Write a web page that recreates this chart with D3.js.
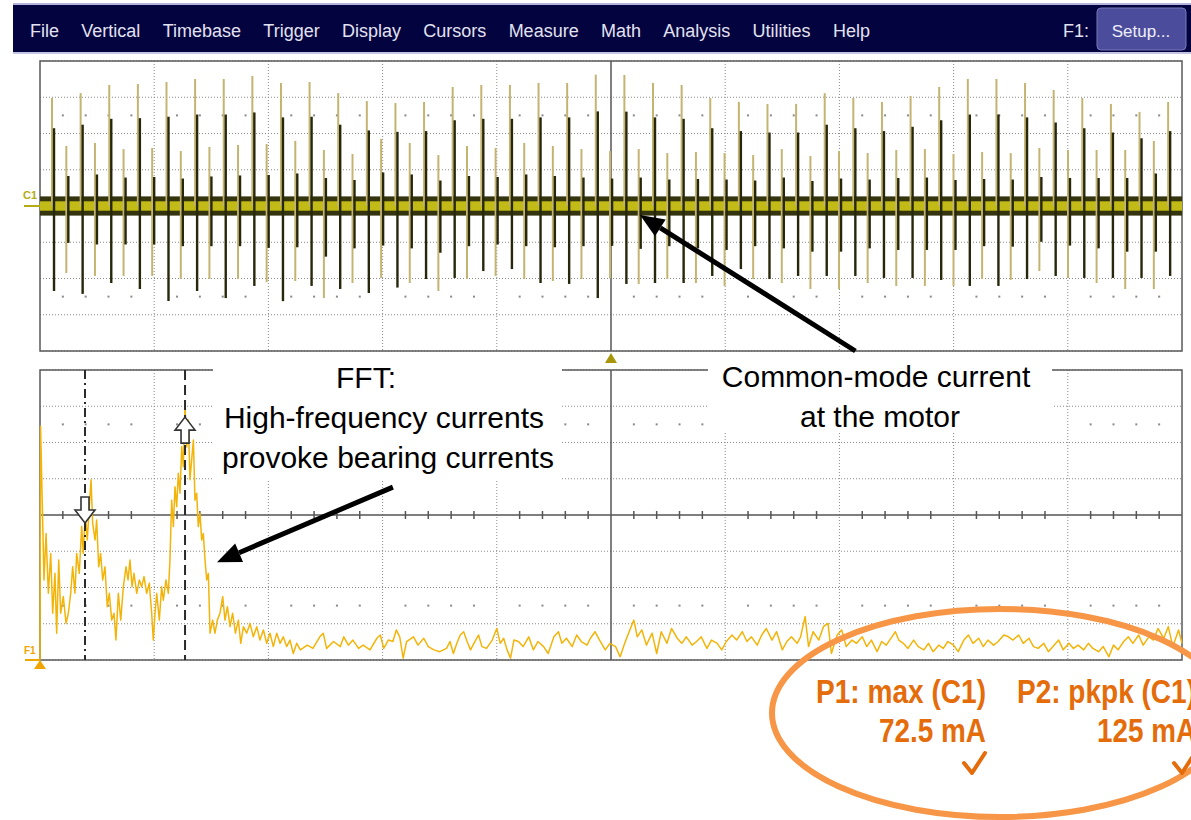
<!DOCTYPE html>
<html>
<head>
<meta charset="utf-8">
<script src="https://cdn.jsdelivr.net/npm/d3@7"></script>
<style>
  body { margin: 0; background: #fff; }
  svg { display: block; font-family: "Liberation Sans", Arial, sans-serif; }
</style>
</head>
<body>
<svg id="scope" width="1191" height="820"></svg>
<script>
// ── DATA ─────────────────────────────────────
const menuItems = ['File', 'Vertical', 'Timebase', 'Trigger', 'Display', 'Cursors',
  'Measure', 'Math', 'Analysis', 'Utilities', 'Help'];

// C1: common-mode current, one spike per switching edge (mA, 20 mA/div)
const pulseStartDiv = 0.114;
const pulsePeriodDiv = 0.1253;
const pulseTopMA = [
  59.6, 33.1, 62.3, 34.8, 66.8, 31.4, 67.3, 32.0, 68.4, 30.3,
  70.1, 32.6, 70.1, 33.7, 71.7, 34.2, 67.9, 35.9, 68.4, 30.9,
  62.3, 28.7, 57.9, 37.0, 56.8, 34.8, 57.4, 28.1, 65.7, 33.1,
  66.8, 32.0, 66.8, 34.8, 67.9, 33.1, 67.9, 31.4, 72.5, 30.3,
  72.3, 31.4, 67.9, 29.2, 66.8, 29.8, 59.6, 29.2, 57.4, 28.1,
  56.3, 31.4, 56.3, 27.6, 62.3, 30.3, 59.6, 29.2, 57.4, 30.9,
  60.7, 31.4, 65.7, 28.7, 70.1, 29.8, 70.1, 29.2, 67.9, 32.0,
  64.0, 30.9, 59.6, 30.9, 56.3, 30.9, 51.9, 35.9, 57.4
];
const pulseBottomMA = [
  -46.9, -37.0, -48.5, -38.6, -42.5, -38.6, -45.8, -38.6, -52.4, -40.3,
  -46.9, -40.3, -50.8, -40.3, -44.1, -42.0, -52.5, -41.4, -44.1, -50.8,
  -45.8, -42.5, -48.0, -39.7, -45.0, -42.5, -40.3, -46.9, -39.7, -40.3,
  -35.9, -38.6, -34.8, -40.3, -42.5, -41.4, -43.0, -40.3, -50.8, -40.0,
  -43.0, -43.0, -42.5, -40.3, -42.5, -42.5, -38.6, -44.1, -34.8, -40.3,
  -40.3, -42.5, -38.6, -45.8, -38.6, -45.8, -38.6, -42.5, -39.7, -44.1,
  -39.7, -44.1, -40.8, -44.1, -44.1, -40.3, -44.1, -40.8, -40.3, -35.9,
  -38.6, -39.7, -39.7, -42.5, -39.7, -45.8, -39.7, -45.8, -38.6
];
const noiseBandMA = 5.3;
const noiseCoreMA = 2.6;

// F1: FFT of C1, [frequency (div), magnitude (div)]
const fftSpectrum = [
  [0, 0], [0.005, 6.45], [0.035, 2.21], [0.053, 3.49], [0.073, 1.84], [0.094, 2.94], [0.111, 1.29],
  [0.131, 2.39], [0.146, 0.74], [0.164, 2.76], [0.181, 1.29], [0.204, 1.75], [0.228, 1.01], [0.248, 1.29],
  [0.269, 1.84], [0.286, 2.57], [0.306, 1.84], [0.321, 2.94], [0.344, 2.39], [0.365, 3.68], [0.379, 2.94],
  [0.397, 4.05], [0.414, 3.31], [0.432, 4.23], [0.447, 4.97], [0.461, 3.77], [0.482, 3.31], [0.496, 3.86],
  [0.514, 2.57], [0.531, 2.94], [0.549, 2.21], [0.569, 2.57], [0.589, 1.47], [0.607, 1.84], [0.628, 1.10],
  [0.648, 1.29], [0.665, 0.55], [0.686, 1.84], [0.707, 1.10], [0.730, 2.02], [0.753, 2.57], [0.771, 2.21],
  [0.788, 2.76], [0.806, 2.02], [0.823, 2.39], [0.847, 1.84], [0.870, 2.21], [0.890, 2.02], [0.911, 2.30],
  [0.934, 1.84], [0.957, 2.12], [0.978, 1.29], [0.992, 0.55], [1.007, 1.29], [1.022, 1.84], [1.045, 1.10],
  [1.065, 2.02], [1.080, 1.65], [1.103, 2.21], [1.124, 1.84], [1.138, 2.76], [1.153, 4.41], [1.168, 3.68],
  [1.182, 4.78], [1.197, 4.23], [1.211, 5.15], [1.226, 4.60], [1.241, 5.88], [1.255, 5.33], [1.270, 6.99],
  [1.285, 5.88], [1.299, 6.62], [1.313, 4.97], [1.328, 5.52], [1.343, 6.07], [1.357, 4.41], [1.372, 4.60],
  [1.386, 3.68], [1.401, 4.05], [1.416, 3.31], [1.430, 3.49], [1.445, 2.76], [1.460, 2.21], [1.474, 2.39],
  [1.489, 0.74], [1.512, 1.10], [1.532, 0.74], [1.553, 1.10], [1.576, 1.29], [1.600, 1.75], [1.620, 1.10],
  [1.641, 1.47], [1.664, 0.92], [1.687, 1.29], [1.711, 0.74], [1.737, 1.10], [1.758, 0.46], [1.781, 0.92],
  [1.810, 0.74], [1.839, 1.01], [1.868, 0.64], [1.898, 0.92], [1.926, 0.55], [1.956, 0.83], [1.985, 0.46],
  [2.014, 0.74], [2.043, 0.37], [2.073, 0.74], [2.102, 0.46], [2.130, 0.64], [2.160, 0.37], [2.189, 0.55],
  [2.218, 0.18], [2.248, 0.46],
  [2.28, 0.28], [2.34, 0.41], [2.39, 0.32], [2.45, 0.64], [2.48, 0.74], [2.51, 0.32], [2.57, 0.51],
  [2.63, 0.37], [2.66, 0.64], [2.70, 0.41], [2.74, 0.55], [2.79, 0.32], [2.83, 0.41], [2.89, 0.28],
  [2.95, 0.60], [2.98, 0.69], [3.01, 0.32], [3.05, 0.55], [3.09, 0.51], [3.12, 0.83], [3.15, 0.64],
  [3.18, 0.05], [3.21, 0.51], [3.27, 0.64], [3.31, 0.41], [3.36, 0.60], [3.40, 0.37], [3.45, 0.28],
  [3.50, 0.23], [3.56, 0.32], [3.59, 0.51], [3.62, 0.18], [3.65, 0.46], [3.68, 0.69], [3.71, 0.78],
  [3.74, 0.51], [3.77, 0.28], [3.80, 0.46], [3.84, 0.69], [3.87, 0.37], [3.91, 0.32], [3.96, 0.55],
  [4.00, 0.87], [4.03, 0.46], [4.06, 0.60], [4.09, 0.28], [4.12, 0.05], [4.15, 0.55], [4.19, 0.51],
  [4.23, 0.37], [4.28, 0.64], [4.32, 0.28], [4.36, 0.51], [4.41, 0.37], [4.45, 0.18], [4.50, 0.64],
  [4.54, 0.78], [4.57, 0.46], [4.61, 0.60], [4.66, 0.37], [4.70, 0.69], [4.74, 0.51], [4.79, 0.41],
  [4.82, 0.60], [4.86, 0.78], [4.90, 0.55], [4.95, 0.28], [4.99, 0.46], [5.04, 0.37], [5.08, 0.09],
  [5.12, 0.46], [5.17, 0.87], [5.20, 1.10], [5.23, 0.64], [5.27, 0.83], [5.31, 0.41], [5.36, 0.74],
  [5.40, 0.18], [5.44, 0.78], [5.49, 0.46], [5.53, 0.87], [5.58, 0.60], [5.62, 0.46], [5.66, 0.64],
  [5.71, 0.41], [5.75, 0.51], [5.79, 0.64], [5.84, 0.32], [5.88, 0.55], [5.93, 0.46], [5.97, 0.28],
  [6.01, 0.51], [6.06, 0.69], [6.10, 0.55], [6.15, 0.78], [6.19, 0.51], [6.23, 0.64], [6.28, 0.41],
  [6.32, 0.69], [6.36, 0.87], [6.41, 0.55], [6.45, 0.78], [6.50, 0.28], [6.54, 0.51], [6.58, 0.64],
  [6.63, 0.46],
  [6.66, 0.64], [6.70, 1.20], [6.73, 0.37], [6.77, 0.78], [6.82, 0.55], [6.86, 0.92], [6.90, 1.01],
  [6.93, 0.18], [6.98, 0.69], [7.02, 0.83], [7.06, 0.37], [7.11, 0.55], [7.15, 0.46], [7.20, 0.64],
  [7.24, 0.37], [7.28, 0.55], [7.33, 0.23], [7.37, 0.51], [7.41, 0.41], [7.46, 0.64], [7.49, 0.78],
  [7.52, 0.55], [7.56, 0.46], [7.60, 0.32], [7.65, 0.55], [7.69, 0.37], [7.74, 0.28], [7.78, 0.46],
  [7.82, 0.23], [7.87, 0.41], [7.91, 0.32], [7.95, 0.51], [8.00, 0.41], [8.04, 0.23], [8.09, 0.55],
  [8.13, 0.69], [8.17, 0.46], [8.22, 0.60], [8.26, 0.37], [8.30, 0.55], [8.35, 0.41], [8.39, 0.51],
  [8.44, 0.69], [8.48, 0.64], [8.52, 0.55], [8.57, 0.69], [8.61, 0.46], [8.66, 0.60], [8.70, 0.37],
  [8.74, 0.32], [8.79, 0.46], [8.83, 0.23], [8.87, 0.37], [8.92, 0.55], [8.96, 0.28], [9.01, 0.46],
  [9.05, 0.32], [9.09, 0.41], [9.14, 0.28], [9.18, 0.46], [9.22, 0.32], [9.27, 0.23], [9.31, 0.37],
  [9.36, 0.09], [9.40, 0.41], [9.44, 0.28], [9.49, 0.51], [9.53, 0.64], [9.57, 0.46], [9.62, 0.69],
  [9.66, 0.41], [9.71, 0.64], [9.75, 0.55], [9.79, 0.87], [9.84, 0.60], [9.88, 0.92], [9.92, 0.37],
  [9.97, 0.83], [10.0, 0.46]
];

// FFT cursors: frequency (div), marker tip (div), marker direction
const cursorFreqDiv = [0.394, 1.27];
const cursorTipDiv = [3.78, 6.70];
const cursorDir = ['down', 'up'];
const cursorDash = ['9,4,2,4', '10,5'];

const measureLabels = ['P1: max (C1)', 'P2: pkpk (C1)'];
const measureValues = ['72.5 mA', '125 mA'];

// ── LAYOUT ───────────────────────────────────
const svg = d3.select('#scope');
const X0 = 40, X1 = 1182;
const C1_TOP = 61, C1_BOT = 351;
const F1_TOP = 370, F1_BOT = 660;

const x = d3.scaleLinear().domain([0, 10]).range([X0, X1]);
const yC1 = d3.scaleLinear().domain([-80, 80]).range([C1_BOT, C1_TOP]);
const yF1 = d3.scaleLinear().domain([0, 8]).range([F1_BOT, F1_TOP]);

// ── MENU BAR ─────────────────────────────────
const menu = svg.append('g');
menu.append('rect').attr('x', 13).attr('y', 3).attr('width', 1178).attr('height', 2).attr('fill', '#b4b4dc');
menu.append('rect').attr('x', 13).attr('y', 5).attr('width', 1178).attr('height', 47).attr('fill', '#03033f');
menu.append('rect').attr('x', 13).attr('y', 52).attr('width', 1178).attr('height', 2).attr('fill', '#c4c4e4');

let mx = 30;
menuItems.forEach(label => {
  const t = menu.append('text')
    .attr('x', mx).attr('y', 37)
    .attr('font-size', 18).attr('fill', '#e2e2f2')
    .text(label);
  mx += t.node().getComputedTextLength() + 22.3;
});

menu.append('text').attr('x', 1063).attr('y', 37)
  .attr('font-size', 18).attr('fill', '#e2e2f2').text('F1:');
menu.append('rect').attr('x', 1097).attr('y', 8).attr('width', 89).attr('height', 42).attr('rx', 4)
  .attr('fill', '#4c4c9c').attr('stroke', '#7878b8');
menu.append('text').attr('x', 1141).attr('y', 37).attr('text-anchor', 'middle')
  .attr('font-size', 17).attr('fill', '#eeeefa').text('Setup...');

// ── GRID ─────────────────────────────────────
function drawGrid(y, rows, centerRow, dotRows, centerTicks) {
  const g = svg.append('g');
  const [yb, yt] = y.range();
  const cols = d3.range(1, 10).filter(d => d !== 5);

  g.selectAll('.vg').data(cols).enter().append('line')
    .attr('x1', d => x(d)).attr('x2', d => x(d))
    .attr('y1', yt).attr('y2', yb)
    .attr('stroke', '#8a8a8a').attr('stroke-width', 1).attr('stroke-dasharray', '1,2');

  g.selectAll('.hg').data(rows.filter(r => r !== centerRow)).enter().append('line')
    .attr('x1', X0).attr('x2', X1)
    .attr('y1', d => y(d)).attr('y2', d => y(d))
    .attr('stroke', '#8a8a8a').attr('stroke-width', 1).attr('stroke-dasharray', '1,2');

  const subs = d3.range(1, 50).filter(k => k % 5 !== 0).map(k => k / 5);
  dotRows.forEach(r => {
    g.selectAll(null).data(subs).enter().append('rect')
      .attr('x', d => x(d) - 1).attr('y', y(r) - 1)
      .attr('width', 2).attr('height', 2).attr('fill', '#8a8a8a');
  });

  // centre axes
  g.append('line').attr('x1', X0).attr('x2', X1).attr('y1', y(centerRow)).attr('y2', y(centerRow))
    .attr('stroke', '#555').attr('stroke-width', 1.5);
  g.append('line').attr('x1', x(5)).attr('x2', x(5)).attr('y1', yt).attr('y2', yb)
    .attr('stroke', '#555').attr('stroke-width', 1.5);
  if (centerTicks) {
    g.selectAll(null).data(subs).enter().append('line')
      .attr('x1', d => x(d)).attr('x2', d => x(d))
      .attr('y1', y(centerRow) - 4).attr('y2', y(centerRow) + 4)
      .attr('stroke', '#555').attr('stroke-width', 1.5);
  }

  g.append('rect').attr('x', X0).attr('y', yt).attr('width', X1 - X0).attr('height', yb - yt)
    .attr('fill', 'none').attr('stroke', '#5a5a5a').attr('stroke-width', 1.5);
  return g;
}

drawGrid(yC1, d3.range(-80, 81, 20), 0, [50, -50], false);
drawGrid(yF1, d3.range(0, 9, 1), 4, [6.5, 1.5], true);

// ── C1 TRACE ─────────────────────────────────
const c1 = svg.append('g');
c1.append('rect').attr('x', X0).attr('width', X1 - X0)
  .attr('y', yC1(noiseBandMA)).attr('height', yC1(-noiseBandMA) - yC1(noiseBandMA))
  .attr('fill', '#34340f');
c1.append('rect').attr('x', X0).attr('width', X1 - X0)
  .attr('y', yC1(noiseCoreMA)).attr('height', yC1(-noiseCoreMA) - yC1(noiseCoreMA))
  .attr('fill', '#c2ba16');

const pulses = pulseTopMA.map((top, i) => ({
  t: pulseStartDiv + i * pulsePeriodDiv,
  top, bottom: pulseBottomMA[i], tall: i % 2 === 0
}));

// light (khaki) strokes
c1.selectAll('.lt').data(pulses).enter().append('line')
  .attr('x1', d => x(d.t) - 1).attr('x2', d => x(d.t) - 1)
  .attr('y1', d => yC1(d.top))
  .attr('y2', d => d.tall ? yC1(0) : yC1(d.bottom))
  .attr('stroke', '#c4b472').attr('stroke-width', 2);

// dark strokes
c1.selectAll('.dk').data(pulses).enter().append('line')
  .attr('x1', d => x(d.t) + 1).attr('x2', d => x(d.t) + 1)
  .attr('y1', d => d.tall ? yC1(d.top * 0.72) : yC1(d.top * 0.5))
  .attr('y2', d => d.tall ? yC1(d.bottom) : yC1(d.bottom * 0.55))
  .attr('stroke', '#27270b').attr('stroke-width', 2.4);

// channel label and trigger marker
svg.append('text').attr('x', 23).attr('y', 199).attr('font-size', 11).attr('font-weight', 'bold')
  .attr('fill', '#b4ac14').text('C1');
svg.append('line').attr('x1', 24).attr('x2', X0).attr('y1', yC1(0)).attr('y2', yC1(0))
  .attr('stroke', '#b4ac14').attr('stroke-width', 2);
svg.append('path')
  .attr('d', `M${x(5)},${C1_BOT + 2} l6,10 h-12 z`)
  .attr('fill', '#a8960a');

// ── F1 TRACE ─────────────────────────────────
const line = d3.line().x(d => x(d[0])).y(d => yF1(d[1]));
svg.append('path').datum(fftSpectrum)
  .attr('d', line)
  .attr('fill', 'none').attr('stroke', '#f3b40a').attr('stroke-width', 1.5)
  .attr('stroke-linejoin', 'round');

svg.append('text').attr('x', 24).attr('y', 654).attr('font-size', 10).attr('font-weight', 'bold')
  .attr('fill', '#f0a500').text('F1');
svg.append('line').attr('x1', 25).attr('x2', X0).attr('y1', F1_BOT).attr('y2', F1_BOT)
  .attr('stroke', '#f0a500').attr('stroke-width', 2);
svg.append('path').attr('d', `M${X0},${F1_BOT} l6,9 h-12 z`).attr('fill', '#f0a500');

// cursors
svg.selectAll('.cur').data(cursorFreqDiv).enter().append('line')
  .attr('x1', d => x(d)).attr('x2', d => x(d))
  .attr('y1', F1_TOP).attr('y2', F1_BOT)
  .attr('stroke', '#2b2b2b').attr('stroke-width', 2)
  .attr('stroke-dasharray', (d, i) => cursorDash[i]);

cursorFreqDiv.forEach((f, i) => {
  const cx = x(f), tip = yF1(cursorTipDiv[i]);
  const s = cursorDir[i] === 'down' ? -1 : 1; // body extends up (-) or down (+) from tip
  const p = `M${cx},${tip} l10,${s * 13} h-6 v${s * 13} h-8 v${-s * 13} h-6 z`;
  svg.append('path').attr('d', p)
    .attr('fill', '#fff').attr('stroke', '#333').attr('stroke-width', 1.6)
    .attr('stroke-linejoin', 'miter');
});

// ── ANNOTATIONS ──────────────────────────────
function arrow(x1, y1, x2, y2) {
  const a = Math.atan2(y2 - y1, x2 - x1);
  const L = 24, Wd = 10;
  const bx = x2 - L * Math.cos(a), by = y2 - L * Math.sin(a);
  svg.append('line').attr('x1', x1).attr('y1', y1).attr('x2', bx).attr('y2', by)
    .attr('stroke', '#000').attr('stroke-width', 5);
  svg.append('path')
    .attr('d', `M${x2},${y2} L${bx + Wd * Math.sin(a)},${by - Wd * Math.cos(a)} L${bx - Wd * Math.sin(a)},${by + Wd * Math.cos(a)} Z`)
    .attr('fill', '#000');
}

svg.append('rect').attr('x', 213).attr('y', 358).attr('width', 349).attr('height', 123).attr('fill', '#fff');
svg.append('rect').attr('x', 708).attr('y', 356).attr('width', 344).attr('height', 77).attr('fill', '#fff');

const ann = svg.append('g').attr('font-size', 30).attr('fill', '#000');
ann.append('text').attr('x', 336).attr('y', 388).text('FFT:');
ann.append('text').attr('x', 384).attr('y', 428).attr('text-anchor', 'middle').text('High-frequency currents');
ann.append('text').attr('x', 388).attr('y', 468).attr('text-anchor', 'middle').text('provoke bearing currents');
ann.append('text').attr('x', 876).attr('y', 387).attr('text-anchor', 'middle').text('Common-mode current');
ann.append('text').attr('x', 880).attr('y', 427).attr('text-anchor', 'middle').text('at the motor');

arrow(x(7.14), yC1(-80), x(5.254), yC1(-5));
arrow(x(3.09), yF1(4.77), x(1.55), yF1(2.70));

// ── MEASUREMENTS ─────────────────────────────
svg.append('ellipse').attr('cx', 1000).attr('cy', 713).attr('rx', 228).attr('ry', 104)
  .attr('fill', 'none').attr('stroke', '#f79646').attr('stroke-width', 6);

const meas = svg.append('g').attr('fill', '#e46c0a').attr('font-weight', 'bold').attr('font-size', 34);
const measRight = [986, 1196];
const labelWidth = [170, 179];
const valueWidth = [107, 99];
measureLabels.forEach((lab, i) => {
  meas.append('text').attr('x', measRight[i]).attr('y', 703).attr('text-anchor', 'end')
    .attr('textLength', labelWidth[i]).attr('lengthAdjust', 'spacingAndGlyphs').text(lab);
  meas.append('text').attr('x', measRight[i]).attr('y', 742).attr('text-anchor', 'end')
    .attr('textLength', valueWidth[i]).attr('lengthAdjust', 'spacingAndGlyphs').text(measureValues[i]);
  // check mark
  const r = measRight[i];
  meas.append('path')
    .attr('d', `M${r - 22},${763} L${r - 14},${773} L${r - 1},${753}`)
    .attr('fill', 'none').attr('stroke', '#e46c0a').attr('stroke-width', 4)
    .attr('stroke-linecap', 'round').attr('stroke-linejoin', 'round');
});
</script>
</body>
</html>
